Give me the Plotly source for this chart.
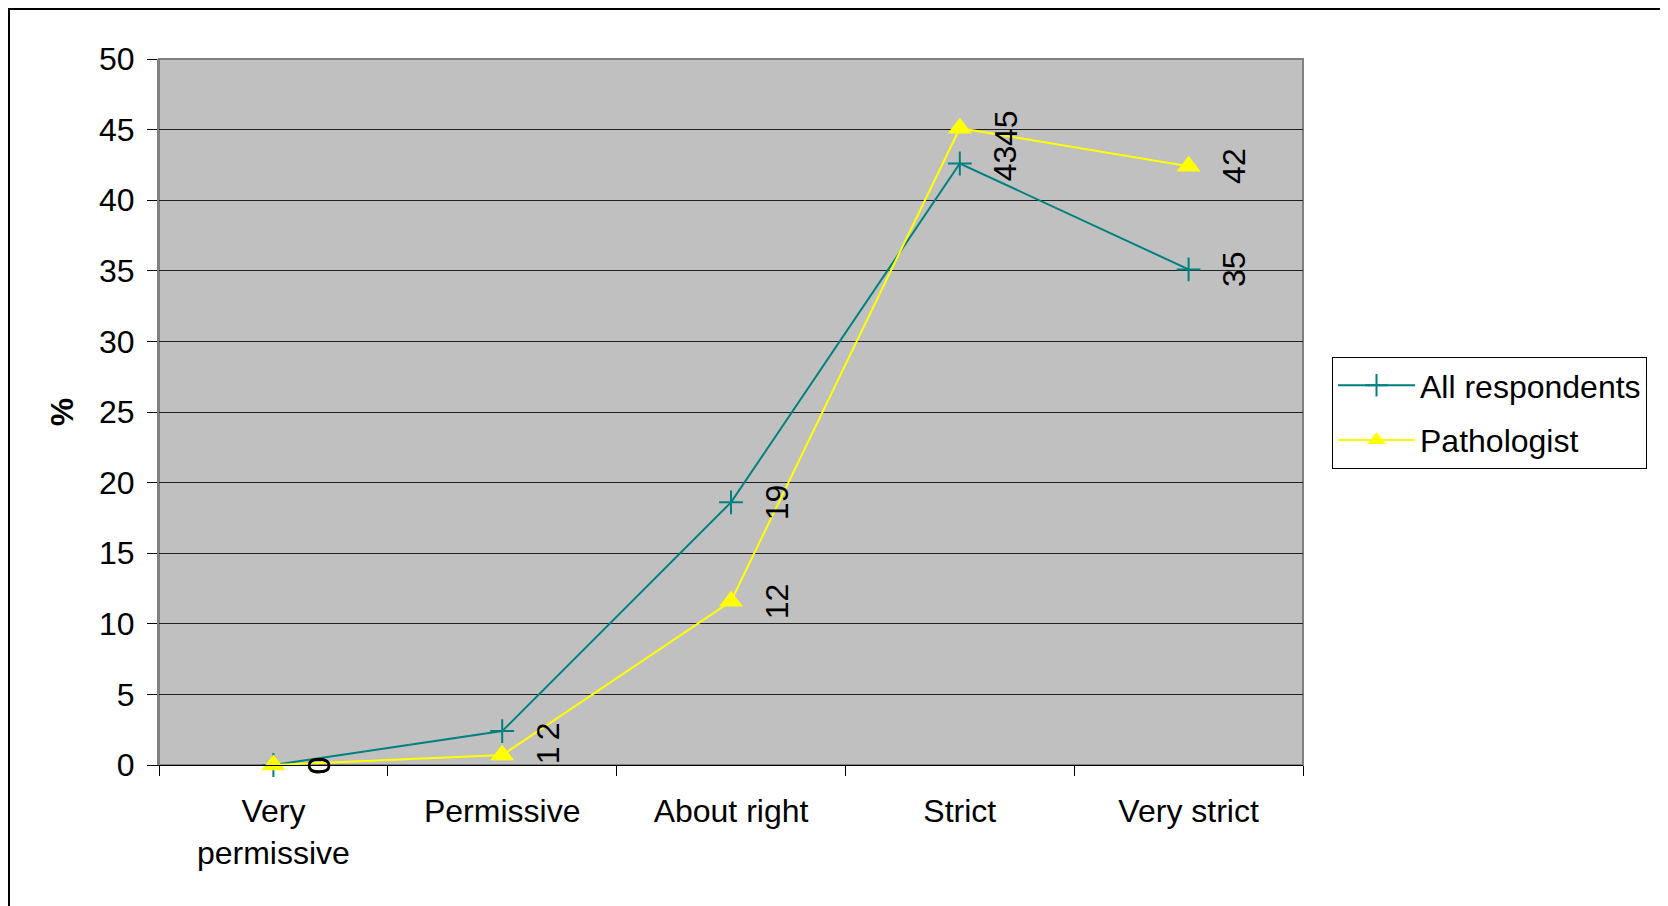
import plotly.graph_objects as go

categories = ["Very permissive", "Permissive", "About right", "Strict", "Very strict"]
tick_labels = ["Very<br>permissive", "Permissive", "About right", "Strict", "Very strict"]
all_respondents = [0.0, 2.4, 18.6, 42.6, 35.1]
pathologist = [0.0, 0.7, 11.6, 45.1, 42.4]
all_labels = ["0", "2", "19", "43", "35"]
path_labels = ["0", "1", "12", "45", "42"]

FONT = "Liberation Sans, Arial, sans-serif"
FS = 32
TEAL = "#008080"
YELLOW = "#FFFF00"

fig = go.Figure()
fig.add_trace(go.Scatter(
    x=categories, y=all_respondents, name="All respondents", mode="lines+markers",
    line=dict(color=TEAL, width=2),
    marker=dict(symbol="cross-thin", size=17, line=dict(color=TEAL, width=2), color=TEAL),
    legendgroup="a", cliponaxis=False,
))
fig.add_trace(go.Scatter(
    x=categories, y=pathologist, name="Pathologist", mode="lines+markers",
    line=dict(color=YELLOW, width=2),
    marker=dict(symbol="triangle-up", size=21, color=YELLOW),
    legendgroup="b", cliponaxis=False,
))

for cat, v, t in zip(categories, all_respondents, all_labels):
    fig.add_annotation(x=cat, y=v, text=t, showarrow=False, textangle=-90,
                       xshift=46, font=dict(family=FONT, size=FS, color="black"))
for cat, v, t in zip(categories, pathologist, path_labels):
    fig.add_annotation(x=cat, y=v, text=t, showarrow=False, textangle=-90,
                       xshift=46, font=dict(family=FONT, size=FS, color="black"))

# page body has an 8px margin, so figure coords = screen coords - 8
L, R, T, B = 151, 1295, 51, 757
W, H = 1668, 906
pw, ph = R - L, B - T

def px(x):
    return (x - L) / pw

def py(y):
    return (B - y) / ph

# outer chart border
fig.add_shape(type="rect", xref="paper", yref="paper",
              x0=px(1), x1=px(1658), y0=py(980), y1=py(1),
              line=dict(color="black", width=2), fillcolor="rgba(0,0,0,0)", layer="below")
# plot area border
fig.add_shape(type="rect", xref="paper", yref="paper", x0=0, x1=1, y0=0, y1=1,
              line=dict(color="#808080", width=2), fillcolor="rgba(0,0,0,0)", layer="below")

fig.update_layout(
    width=W, height=H,
    margin=dict(l=L, r=W - R, t=T, b=H - B, pad=0),
    paper_bgcolor="white", plot_bgcolor="#C0C0C0",
    font=dict(family=FONT, size=FS, color="black"),
    showlegend=True,
    legend=dict(x=px(1324), y=py(349), xanchor="left", yanchor="top",
                bgcolor="white", bordercolor="black", borderwidth=1,
                font=dict(family=FONT, size=FS, color="black"),
                tracegroupgap=10, itemwidth=77),
    xaxis=dict(type="category", tickvals=categories, ticktext=tick_labels,
               range=[-0.5, 4.5], autorange=False,
               tickson="boundaries", ticks="outside", ticklen=10, tickcolor="black",
               tickwidth=1, showline=True, linecolor="black", linewidth=1,
               showgrid=False, ticklabelstandoff=18,
               tickfont=dict(family=FONT, size=FS, color="black")),
    yaxis=dict(range=[0, 50], dtick=5, ticks="outside", ticklen=10, tickcolor="black",
               showline=True, linecolor="#808080", linewidth=2,
               showgrid=True, gridcolor="#202020", gridwidth=1, zeroline=False,
               ticklabelstandoff=6,
               tickfont=dict(family=FONT, size=FS, color="black"),
               title=dict(text="<b>%</b>", standoff=16,
                          font=dict(family=FONT, size=FS, color="black"))),
)

fig.write_html("out.html")
